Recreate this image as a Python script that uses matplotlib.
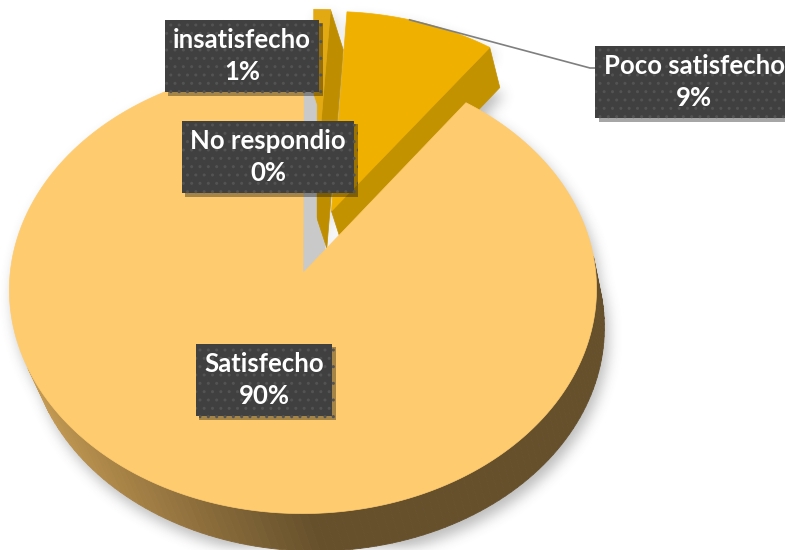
import numpy as np
import matplotlib.pyplot as plt
import matplotlib.patheffects as pe
from matplotlib.patches import Polygon
from matplotlib.collections import PolyCollection
from matplotlib.path import Path

# Datos del gráfico
categories = ["No respondio", "insatisfecho", "Poco satisfecho", "Satisfecho"]
percent = [0, 1, 9, 90]
explode = [0.0, 0.2, 0.2, 0.1]

# Colores (cara superior / cara de corte)
top_colors = ["#C9C9C9", "#E2A912", "#F0B000", "#FECB6E"]
face_colors = ["#C9C9C9", "#BF8E00", "#C39200", "#C9C9C9"]
wall_left = np.array([204, 160, 86]) / 255
wall_right = np.array([102, 80, 44]) / 255

# Posición de las etiquetas (centro en píxeles)
label_xy = [(268, 157), (242, 56), (694, 82), (264, 380)]

W, H = 785, 550

# Vista 3D: perspectiva centrada + desplazamiento oblicuo de la base
elev = np.radians(50)
cam_d = 9.0
focal = 2570
thick = 0.21
shear = 13.0


def project_raw(X, Y, Z):
    X, Y, Z = np.broadcast_arrays(np.asarray(X, float), np.asarray(Y, float), np.asarray(Z, float))
    yv = Y * np.sin(elev) + Z * np.cos(elev)
    dv = Y * np.cos(elev) - Z * np.sin(elev) + cam_d
    return focal * X / dv + shear * (thick - Z) / thick, -focal * yv / dv


fracs = np.array(percent, dtype=float) / sum(percent)
starts = np.concatenate([[0], np.cumsum(fracs)[:-1]]) * 360
ends = starts + fracs * 360
mids = np.radians((starts + ends) / 2)
offsets = [np.array([explode[i] * np.sin(mids[i]), explode[i] * np.cos(mids[i])]) for i in range(len(percent))]

# ancla: vértice de "Satisfecho" en (303, 273)
ax0, ay0 = project_raw(offsets[3][0], offsets[3][1], thick)


def pts(X, Y, Z):
    sx, sy = project_raw(X, Y, Z)
    return np.column_stack([np.atleast_1d(303 + sx - ax0), np.atleast_1d(273 + sy - ay0)])


def signed_area(q):
    x, y = q[:, 0], q[:, 1]
    return 0.5 * np.sum(x * np.roll(y, -1) - np.roll(x, -1) * y)


def wall_quad(ox, oy, a, b):
    aa = np.array([a, b])
    top = pts(ox + np.sin(aa), oy + np.cos(aa), thick)
    bot = pts(ox + np.sin(aa), oy + np.cos(aa), 0.0)
    return np.vstack([top, bot[::-1]])


def cut_quad(ox, oy, a):
    return np.vstack([pts(ox, oy, thick), pts(ox + np.sin(a), oy + np.cos(a), thick),
                      pts(ox + np.sin(a), oy + np.cos(a), 0.0), pts(ox, oy, 0.0)])


# orientaciones de referencia (cara frontal visible)
s_wall = np.sign(signed_area(wall_quad(0, 0, np.radians(179), np.radians(181))))
s_end = np.sign(signed_area(cut_quad(0, 0, np.radians(90))))

fig = plt.figure(figsize=(W / 100, H / 100), dpi=100)
ax = fig.add_axes([0, 0, 1, 1])
ax.set_xlim(0, W)
ax.set_ylim(H, 0)
ax.axis("off")

# --- sombra difusa ---
gx, gy = np.meshgrid(np.arange(W) + 0.5, np.arange(H) + 0.5)
grid = np.column_stack([gx.ravel(), gy.ravel()])
mask = np.zeros(W * H)
for i in range(len(percent)):
    if percent[i] == 0:
        continue
    ang = np.radians(np.linspace(starts[i], ends[i], 120))
    ox, oy = offsets[i]
    for z in (0.0, thick):
        poly = np.vstack([pts(ox, oy, z), pts(ox + np.sin(ang), oy + np.cos(ang), z)])
        poly = poly + np.array([4, 8])
        mask = np.maximum(mask, Path(poly).contains_points(grid))
mask = mask.reshape(H, W)


def box_blur(a, r, axis):
    pad = [(r + 1, r) if k == axis else (0, 0) for k in range(2)]
    c = np.cumsum(np.pad(a, pad, mode="constant"), axis=axis)
    if axis == 0:
        return (c[2 * r + 1:, :] - c[:-2 * r - 1, :]) / (2 * r + 1)
    return (c[:, 2 * r + 1:] - c[:, :-2 * r - 1]) / (2 * r + 1)


for _ in range(3):
    mask = box_blur(mask, 6, 0)
    mask = box_blur(mask, 6, 1)
shadow = np.zeros((H, W, 4))
shadow[..., :3] = 0.3
shadow[..., 3] = mask * 0.38
ax.imshow(shadow, extent=(0, W, H, 0), zorder=0, interpolation="bilinear")


# --- orden de dibujo: de atrás hacia adelante ---
def slice_depth(i):
    ox, oy = offsets[i]
    d = oy + 0.5 * np.cos(mids[i]) - 0.3 * (ox + 0.5 * np.sin(mids[i]))
    return d + (10 if percent[i] == 0 else 0)


order = sorted(range(len(percent)), key=slice_depth, reverse=True)
zo = 1
for i in order:
    ox, oy = offsets[i]
    a0, a1 = np.radians(starts[i]), np.radians(ends[i])

    # paredes exteriores
    if percent[i] > 0:
        ang = np.linspace(a0, a1, max(4, int((ends[i] - starts[i]) / 1.5)))
        verts, cols = [], []
        for j in range(len(ang) - 1):
            q = wall_quad(ox, oy, ang[j], ang[j + 1])
            if np.sign(signed_area(q)) != s_wall:
                continue
            t = np.clip((q[:, 0].mean() - 15) / 300, 0, 1)
            cols.append(tuple(wall_left * (1 - t) + wall_right * t))
            verts.append(q)
        if verts:
            ax.add_collection(PolyCollection(verts, facecolors=cols, edgecolors=cols, linewidths=0.6, zorder=zo))
        zo += 1

    # caras de corte
    for a, sgn in ((a0, -1), (a1, 1)):
        q = cut_quad(ox, oy, a)
        if percent[i] > 0 and np.sign(signed_area(q)) != sgn * s_end:
            continue
        ax.add_patch(Polygon(q, closed=True, fc=face_colors[i], ec=face_colors[i], lw=0.5, zorder=zo))
        zo += 1
        if percent[i] == 0:
            break

    # cara superior
    if percent[i] > 0:
        ang = np.linspace(a0, a1, max(3, int((ends[i] - starts[i]) * 2)))
        q = np.vstack([pts(ox, oy, thick), pts(ox + np.sin(ang), oy + np.cos(ang), thick)])
        ax.add_patch(Polygon(q, closed=True, fc=top_colors[i], ec=top_colors[i], lw=0.5, zorder=zo))
        zo += 1

# línea guía de "Poco satisfecho"
ap = np.radians(starts[2] + 0.42 * (ends[2] - starts[2]))
lp = pts(offsets[2][0] + np.sin(ap), offsets[2][1] + np.cos(ap), thick)[0]
ax.plot([lp[0], 590, 602], [lp[1], 68, 68], color="#7F7F7F", lw=1.2, zorder=zo)
zo += 1

# etiquetas
for i, name in enumerate(categories):
    t = ax.text(label_xy[i][0], label_xy[i][1], f"{name}\n{percent[i]}%", ha="center", va="center",
                color="white", fontsize=18.5, fontweight="bold", family=["Lato", "DejaVu Sans"],
                linespacing=1.4, zorder=zo + 1,
                bbox=dict(boxstyle="square,pad=0.32", fc="#404040", ec="#535353", lw=0, hatch=".."))
    t.get_bbox_patch().set_path_effects([pe.withSimplePatchShadow(offset=(2.5, -2.5), shadow_rgbFace="black", alpha=0.35)])

fig.savefig("out.png", dpi=100)
